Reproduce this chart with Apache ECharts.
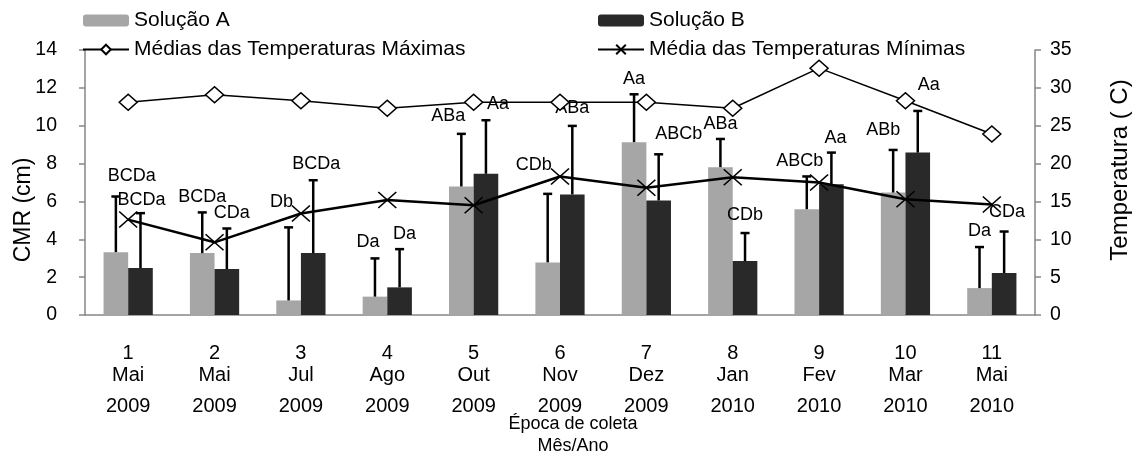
<!DOCTYPE html>
<html>
<head>
<meta charset="utf-8">
<script src="https://cdn.jsdelivr.net/npm/echarts@6/dist/echarts.min.js"></script>
<style>
  html, body { margin: 0; padding: 0; background: #fff; }
  #chart { width: 1138px; height: 462px; }
</style>
</head>
<body>
<div id="chart"></div>
<script>
// épocas de coleta
const epocas = ['1', '2', '3', '4', '5', '6', '7', '8', '9', '10', '11']
const meses = ['Mai', 'Mai', 'Jul', 'Ago', 'Out', 'Nov', 'Dez', 'Jan', 'Fev', 'Mar', 'Mai']
const anos = ['2009', '2009', '2009', '2009', '2009', '2009', '2009', '2010', '2010', '2010', '2010']

// CMR (cm) - solução A
const solucaoA = [3.32, 3.27, 0.77, 0.97, 6.79, 2.78, 9.13, 7.81, 5.59, 6.47, 1.42]
const erroA = [2.94, 2.15, 3.86, 2.02, 2.78, 3.62, 2.53, 1.49, 1.73, 2.25, 2.17]
const letrasA = ['BCDa', 'BCDa', 'Db', 'Da', 'ABa', 'CDb', 'Aa', 'ABa', 'ABCb', 'ABb', 'Da']

// CMR (cm) - solução B
const solucaoB = [2.48, 2.43, 3.27, 1.46, 7.46, 6.37, 6.05, 2.85, 6.91, 8.58, 2.22]
const erroB = [2.90, 2.14, 3.85, 2.02, 2.83, 3.62, 2.44, 1.48, 1.67, 2.20, 2.19]
const letrasB = ['BCDa', 'CDa', 'BCDa', 'Da', 'Aa', 'ABa', 'ABCb', 'CDb', 'Aa', 'Aa', 'CDa']

// temperaturas (C)
const tempMax = [28.1, 29.1, 28.3, 27.3, 28.1, 28.1, 28.1, 27.3, 32.6, 28.3, 23.9]
const tempMin = [12.6, 9.6, 13.4, 15.2, 14.5, 18.3, 16.8, 18.2, 17.5, 15.3, 14.6]

// deslocamento das letras em relação ao topo da barra de erro (px)
const ajusteA = [[16, -20], [0, -15], [-7, -25], [-7, -16], [-13, -18], [-14, -29], [0, -15], [0, -15], [-7, -15], [-10, -20], [0, -16]]
const ajusteB = [[1, -13], [5, -15], [3, -16], [5, -15], [12, -16], [0, -18], [20, -20], [0, -18], [4, -15], [11, -26], [3, -19]]

const FONTE = 'Liberation Sans, Arial, sans-serif'
const GAP = 0.43
const CINZA_EIXO = '#868686'

function barraErro(nome, medias, erros, letras, lado, ajuste) {
  return {
    type: 'custom',
    name: nome,
    z: 3,
    data: medias.map((m, i) => [i, m, m + erros[i]]),
    encode: { x: 0, y: [1, 2] },
    renderItem: function(params, api) {
      const i = params.dataIndex
      const banda = api.size([1, 0])[0]
      const larg = banda * (1 - GAP) / 2
      const base = api.coord([api.value(0), api.value(1)])
      const topo = api.coord([api.value(0), api.value(2)])
      const x = base[0] + lado * larg / 2
      return {
        type: 'group',
        children: [
          { type: 'line', shape: { x1: x, y1: base[1], x2: x, y2: topo[1] }, style: { stroke: '#000', lineWidth: 2.5 } },
          { type: 'line', shape: { x1: x - 4.5, y1: topo[1], x2: x + 4.5, y2: topo[1] }, style: { stroke: '#000', lineWidth: 2.5 } },
          {
            type: 'text',
            x: x + ajuste[i][0],
            y: topo[1] + ajuste[i][1],
            style: { text: letras[i], fill: '#000', font: '18px ' + FONTE, align: 'center', verticalAlign: 'middle' }
          }
        ]
      }
    }
  }
}

const chart = echarts.init(document.getElementById('chart'))
chart.setOption({
  animation: false,
  backgroundColor: '#fff',
  textStyle: { fontFamily: FONTE, color: '#000' },
  legend: [
    {
      left: 82,
      top: 10,
      padding: 0,
      orient: 'vertical',
      itemWidth: 46,
      itemHeight: 12,
      itemGap: 8,
      data: ['Solução A', 'Médias das Temperaturas Máximas'],
      textStyle: { fontSize: 21, color: '#000', fontFamily: FONTE }
    },
    {
      left: 597,
      top: 10,
      padding: 0,
      orient: 'vertical',
      itemWidth: 46,
      itemHeight: 12,
      itemGap: 8,
      data: ['Solução B', 'Média das Temperaturas Mínimas'],
      textStyle: { fontSize: 21, color: '#000', fontFamily: FONTE }
    }
  ],
  grid: { left: 85, right: 103, top: 50, bottom: 147 },
  xAxis: {
    type: 'category',
    data: epocas,
    axisLine: { lineStyle: { color: CINZA_EIXO, width: 1.5 } },
    axisTick: { length: 8, interval: 0, lineStyle: { color: CINZA_EIXO, width: 1.5 } },
    axisLabel: {
      interval: 0,
      margin: 27,
      color: '#000',
      formatter: function(v, i) {
        return '{n|' + v + '}\n{m|' + meses[i] + '}\n{a|' + anos[i] + '}'
      },
      rich: {
        n: { fontSize: 20, lineHeight: 22, fontFamily: FONTE },
        m: { fontSize: 20, lineHeight: 22, fontFamily: FONTE },
        a: { fontSize: 20, lineHeight: 40, fontFamily: FONTE }
      }
    }
  },
  yAxis: [
    {
      type: 'value',
      min: 0,
      max: 14,
      interval: 2,
      axisLine: { show: true, lineStyle: { color: CINZA_EIXO, width: 1.5 } },
      axisTick: { show: true, length: 6, lineStyle: { color: CINZA_EIXO, width: 1.5 } },
      splitLine: { show: false },
      axisLabel: { fontSize: 19.5, color: '#000', margin: 28 }
    },
    {
      type: 'value',
      position: 'right',
      min: 0,
      max: 35,
      interval: 5,
      axisLine: { show: true, lineStyle: { color: CINZA_EIXO, width: 1.5 } },
      axisTick: { show: true, length: 6, lineStyle: { color: CINZA_EIXO, width: 1.5 } },
      splitLine: { show: false },
      axisLabel: { fontSize: 19.5, color: '#000', margin: 15 }
    }
  ],
  series: [
    {
      name: 'Solução A',
      type: 'bar',
      data: solucaoA,
      barGap: '0%',
      barCategoryGap: '43%',
      itemStyle: { color: '#a6a6a6' }
    },
    {
      name: 'Solução B',
      type: 'bar',
      data: solucaoB,
      barGap: '0%',
      barCategoryGap: '43%',
      itemStyle: { color: '#292929' }
    },
    barraErro('erroA', solucaoA, erroA, letrasA, -1, ajusteA),
    barraErro('erroB', solucaoB, erroB, letrasB, 1, ajusteB),
    {
      name: 'Médias das Temperaturas Máximas',
      type: 'line',
      yAxisIndex: 1,
      z: 5,
      data: tempMax,
      symbol: 'diamond',
      symbolSize: [18, 16],
      lineStyle: { color: '#000', width: 1.5 },
      itemStyle: { color: '#fff', borderColor: '#000', borderWidth: 1.5 }
    },
    {
      name: 'Média das Temperaturas Mínimas',
      type: 'line',
      yAxisIndex: 1,
      z: 5,
      data: tempMin,
      symbol: 'path://M0,0L10,10M10,0L0,10',
      symbolSize: [18, 16],
      lineStyle: { color: '#000', width: 2.5 },
      itemStyle: { color: 'rgba(0,0,0,0)', borderColor: '#000', borderWidth: 1.5 }
    }
  ],
  graphic: [
    {
      type: 'text',
      x: 24,
      y: 210,
      rotation: Math.PI / 2,
      style: { text: 'CMR (cm)', font: '23px ' + FONTE, fill: '#000', align: 'center', verticalAlign: 'middle' }
    },
    {
      type: 'text',
      x: 1120,
      y: 170,
      rotation: Math.PI / 2,
      style: { text: 'Temperatura ( C)', font: '24px ' + FONTE, fill: '#000', align: 'center', verticalAlign: 'middle' }
    },
    {
      type: 'text',
      x: 573,
      y: 424,
      style: { text: 'Época de coleta', font: '18px ' + FONTE, fill: '#000', align: 'center', verticalAlign: 'middle' }
    },
    {
      type: 'text',
      x: 573,
      y: 446,
      style: { text: 'Mês/Ano', font: '18px ' + FONTE, fill: '#000', align: 'center', verticalAlign: 'middle' }
    }
  ]
})
</script>
</body>
</html>
